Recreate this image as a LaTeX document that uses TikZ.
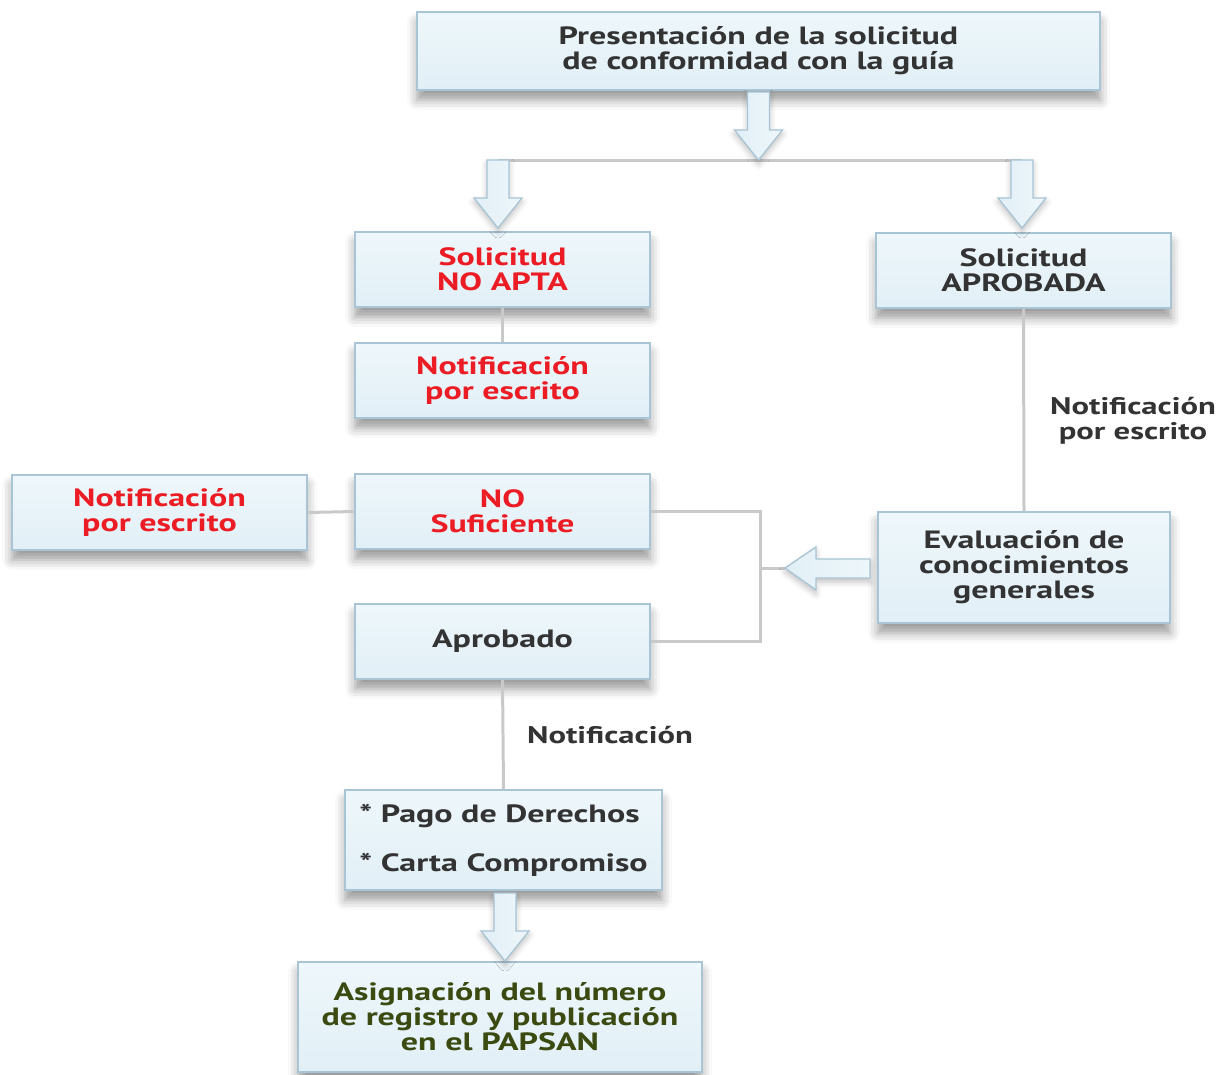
\documentclass[tikz,border=0pt]{standalone}
\usepackage{fontspec}
\setmainfont{PT Sans}[FakeStretch=1.36]
\usetikzlibrary{shadows.blur,calc}
\definecolor{boxfill}{HTML}{E1EFF6}
\definecolor{boxtop}{HTML}{EEF7FB}
\definecolor{boxborder}{HTML}{A9C4D4}
\definecolor{txt}{HTML}{333333}
\definecolor{redt}{HTML}{EC1C24}
\definecolor{greent}{HTML}{3A4A10}
\definecolor{conncol}{HTML}{C9C9C9}
\tikzset{
  box/.style={draw=boxborder, line width=1.5pt, top color=boxtop, bottom color=boxfill,
    inner sep=0pt, align=center, text=txt,
    font=\fontsize{25}{25}\selectfont\bfseries,
    blur shadow={shadow xshift=0pt, shadow yshift=-10pt, shadow blur radius=10pt, shadow opacity=40}},
  conn/.style={draw=conncol, line width=3pt},
  barrow/.style={draw=boxborder, line width=1.3pt, left color=boxfill, right color=boxtop, line join=miter,
    blur shadow={shadow xshift=0pt, shadow yshift=-4pt, shadow blur radius=6pt, shadow opacity=25}},
  lbl/.style={text=txt, align=center, font=\fontsize{24}{25}\selectfont\bfseries},
}
\newcommand{\downarr}[3]{% x, ytop, ybottom
  \path[barrow] (#1-11,#2) -- (#1+11,#2) -- (#1+11,#3-30) -- (#1+24,#3-30) -- (#1,#3)
    -- (#1-24,#3-30) -- (#1-11,#3-30) -- cycle;}
\begin{document}
\begin{tikzpicture}[x=1pt,y=-1pt]
\useasboundingbox (0,0) rectangle (1226,1074);

% boxes
\node[box, minimum width=683pt, minimum height=78pt] (pres) at (758.5,51) {Presentación de la solicitud\\de conformidad con la guía};
\node[box, minimum width=295pt, minimum height=75pt, text=redt] (noapta) at (502.5,269.5) {Solicitud\\NO APTA};
\node[box, minimum width=295pt, minimum height=75pt, text=redt] (notif1) at (502.5,380.5) {Notificación\\por escrito};
\node[box, minimum width=295pt, minimum height=75pt] (aprobada) at (1023.5,270.5) {Solicitud\\APROBADA};
\node[box, minimum width=295pt, minimum height=75pt, text=redt] (notif2) at (159.5,512.5) {Notificación\\por escrito};
\node[box, minimum width=295pt, minimum height=75pt, text=redt] (nosuf) at (502.5,511.5) {NO\\Suficiente};
\node[box, minimum width=292pt, minimum height=111pt] (eval) at (1024,567.5) {Evaluación de\\conocimientos\\generales};
\node[box, minimum width=295pt, minimum height=75pt] (aprob) at (502.5,641.5) {Aprobado};
\node[box, minimum width=317pt, minimum height=100pt, align=left] (pago) at (503.5,840) {* Pago de Derechos\\[24pt]* Carta Compromiso};
\node[box, minimum width=404pt, minimum height=110pt, text=greent] (asig) at (500,1017) {Asignación del número\\de registro y publicación\\en el PAPSAN};

% connectors
\coordinate (hl) at (498,160);
\coordinate (hr) at (1022,160);
\draw[conn] (hl) -- (hr);
\draw[conn] (noapta.south) -- (notif1.north);
\draw[conn] (aprobada.south) -- (eval.north);
\draw[conn] (notif2.east) -- (nosuf.west);
\coordinate (brk) at (760,568);
\coordinate (tip) at (785,568);
\draw[conn] (nosuf.east) -| (brk) |- (aprob.east);
\draw[conn] (brk) -- (tip);
\draw[conn] (aprob.south) -- (pago.north);

% block arrows
\downarr{758.5}{92}{160}
\downarr{498}{160}{228}
\downarr{1022}{160}{228}
\downarr{505}{893}{961}
\path[barrow] (870,559) -- (870,578) -- (816,578) -- (816,590) -- (785,568) -- (816,547) -- (816,559) -- cycle;

% labels
\node[lbl] (l1) at (1133,421) {Notificación\\por escrito};
\node[lbl] (l2) at (610,735) {Notificación};
\end{tikzpicture}
\end{document}
